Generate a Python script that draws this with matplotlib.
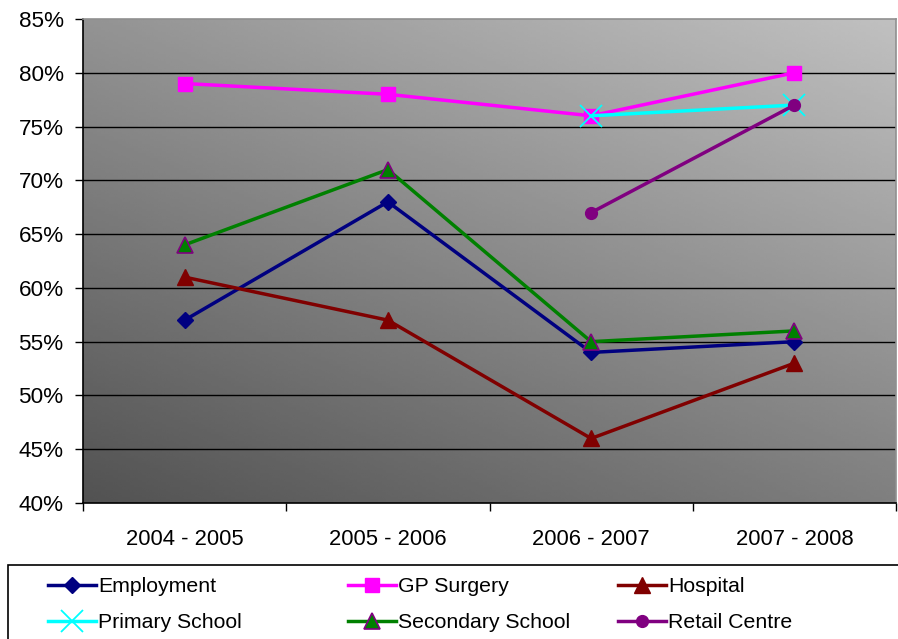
import matplotlib.pyplot as plt
import numpy as np
from matplotlib.patches import Rectangle

plt.rcParams['font.family'] = ['Liberation Sans', 'DejaVu Sans']

years = ["2004 - 2005", "2005 - 2006", "2006 - 2007", "2007 - 2008"]

employment = [57, 68, 54, 55]
gp_surgery = [79, 78, 76, 80]
hospital = [61, 57, 46, 53]
primary_school = [np.nan, np.nan, 76, 77]
secondary_school = [64, 71, 55, 56]
retail_centre = [np.nan, np.nan, 67, 77]

yticks = [40, 45, 50, 55, 60, 65, 70, 75, 80, 85]

fig = plt.figure(figsize=(8.98, 6.39), dpi=100)
ax = fig.add_axes([83 / 898, 1 - 503 / 639, 813 / 898, 484 / 639])

# gradient background: dark bottom-left to light top-right
gx, gy = np.meshgrid(np.linspace(0, 1, 200), np.linspace(0, 1, 200))
shade = (82 + 45 * gx + 65 * gy) / 255.0
ax.imshow(shade, cmap="gray", vmin=0, vmax=1, origin="lower",
          extent=[0, 1, 0, 1], transform=ax.transAxes, aspect="auto",
          zorder=0, interpolation="bilinear")

x = np.arange(len(years))
lw = 2.5

series = [
    ("Employment", employment, dict(color="#000080", marker="D", ms=8.5,
                                    mfc="#000080", mec="#000080")),
    ("GP Surgery", gp_surgery, dict(color="#FF00FF", marker="s", ms=10.5,
                                    mfc="#FF00FF", mec="#FF00FF")),
    ("Hospital", hospital, dict(color="#800000", marker="^", ms=11.5,
                                mfc="#800000", mec="#800000")),
    ("Primary School", primary_school, dict(color="#00FFFF", marker="x", ms=16,
                                            mew=1.3, mec="#00FFFF")),
    ("Secondary School", secondary_school, dict(color="#008000", marker="^", ms=11.5,
                                                mfc="#008000", mec="#800080",
                                                mew=1.2)),
    ("Retail Centre", retail_centre, dict(color="#800080", marker="o", ms=8.5,
                                          mfc="#800080", mec="#800080")),
]

handles = []
for name, vals, style in series:
    (h,) = ax.plot(x, vals, lw=lw, label=name, zorder=3, **style)
    handles.append(h)

ax.set_xlim(-0.5, len(years) - 0.5)
ax.set_ylim(40, 85)
ax.set_yticks(yticks)
ax.set_yticklabels([f"{v}%" for v in yticks])
ax.set_xticks(x)
ax.set_xticklabels(years)
ax.set_xticks(np.arange(len(years) + 1) - 0.5, minor=True)
ax.tick_params(axis="x", which="major", length=0, pad=19, labelsize=15.8)
ax.tick_params(axis="x", which="minor", length=6, width=1, color="black")
ax.tick_params(axis="y", length=6, width=1, pad=8, labelsize=16.2)

for v in yticks[1:-1]:
    ax.axhline(v, color="black", lw=1.0, zorder=1)

ax.spines["left"].set_color("black")
ax.spines["bottom"].set_color("black")
ax.spines["top"].set_color("#909090")
ax.spines["right"].set_color("#909090")
for s in ax.spines.values():
    s.set_linewidth(1.2)

# legend frame
fig.patches.append(Rectangle((8 / 898, -0.01), 0.995, (639 - 565) / 639 + 0.01,
                             transform=fig.transFigure, fill=False,
                             edgecolor="black", lw=1.2))

col_x = [39 / 898, 339 / 898, 609 / 898]
for i, cx in enumerate(col_x):
    pair = [handles[i], handles[i + 3]]
    fig.legend(pair, [h.get_label() for h in pair], loc="upper left",
               bbox_to_anchor=(cx, 1 - 569 / 639), frameon=False,
               fontsize=15.3, handlelength=2.3, handletextpad=0.1,
               labelspacing=0.78, borderaxespad=0, numpoints=1)

fig.savefig("out.png", dpi=100)
